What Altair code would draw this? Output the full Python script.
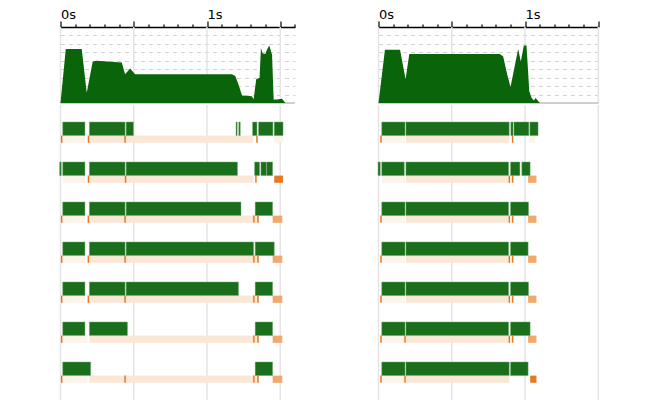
import altair as alt
import pandas as pd

# ---------------- timeline (seconds) ----------------
LEFT_TMAX = 1.6
RIGHT_TMAX = 1.5
GRID_T = [0.0, 0.5, 1.0, 1.5]
AXIS_T = [round(i * 0.1, 1) for i in range(17)]

# ---------------- CPU usage (cores busy) ----------------
LEFT_CPU_T = [0.0, 0.036, 0.145, 0.179, 0.220, 0.247, 0.418, 0.441, 0.475, 0.509,
              1.170, 1.193, 1.215, 1.239, 1.307, 1.318, 1.336, 1.359, 1.368, 1.379,
              1.398, 1.409, 1.425, 1.444, 1.455, 1.478, 1.512, 1.535]
LEFT_CPU_V = [0, 6.4, 6.4, 1.2, 4.9, 5.0, 4.8, 3.4, 4.1, 3.4,
              3.4, 3.2, 2.2, 0.9, 0.8, 0.4, 2.8, 3.0, 6.5, 5.9,
              5.8, 6.3, 6.8, 5.7, 0.4, 0.4, 0.5, 0]
RIGHT_CPU_T = [0.0, 0.044, 0.147, 0.185, 0.210, 0.828, 0.851, 0.878, 0.901, 0.953,
               0.971, 0.992, 1.010, 1.029, 1.045, 1.061, 1.072, 1.101]
RIGHT_CPU_V = [0, 6.3, 6.3, 2.8, 5.8, 5.8, 5.5, 3.4, 1.9, 6.4,
               4.9, 6.8, 6.8, 1.4, 0.6, 0.3, 0.6, 0]

# ---------------- thread activity: running segments ----------------
LEFT_RUNS = [
    [(0.015, 0.167), (0.197, 0.441), (0.448, 0.498), (1.198, 1.206), (1.217, 1.227),
     (1.311, 1.341), (1.352, 1.450), (1.459, 1.519)],
    [(-0.006, 0.005), (0.015, 0.167), (0.197, 0.441), (0.448, 1.208), (1.325, 1.359),
     (1.368, 1.405), (1.407, 1.448)],
    [(0.015, 0.167), (0.197, 0.441), (0.448, 1.232), (1.329, 1.448)],
    [(0.015, 0.167), (0.197, 0.441), (0.448, 1.318), (1.329, 1.459)],
    [(0.015, 0.167), (0.197, 0.441), (0.448, 1.215), (1.329, 1.448)],
    [(0.015, 0.167), (0.197, 0.457), (1.329, 1.448)],
    [(0.015, 0.206), (1.329, 1.448)],
]
RIGHT_RUNS = [
    [(0.022, 0.181), (0.187, 0.892), (0.903, 0.918), (0.924, 1.026), (1.033, 1.089)],
    [(-0.003, 0.012), (0.022, 0.176), (0.187, 0.888), (0.901, 0.965), (0.978, 1.035)],
    [(0.022, 0.181), (0.187, 0.888), (0.901, 1.024)],
    [(0.022, 0.181), (0.187, 0.888), (0.901, 1.021)],
    [(0.022, 0.181), (0.187, 0.888), (0.901, 1.024)],
    [(0.022, 0.181), (0.187, 0.888), (0.901, 1.035)],
    [(0.022, 0.181), (0.187, 0.892), (0.901, 1.021)],
]

# ---------------- waiting strips (start, end, kind) ----------------
LEFT_WAITS = [
    [(0.008, 0.167, "faint"), (0.191, 1.316, "wait"), (1.459, 1.519, "faint")],
    [(0.015, 0.167, "faint"), (0.191, 1.316, "wait")],
    [(0.008, 0.167, "faint"), (0.191, 1.316, "wait"), (1.320, 1.348, "wait")],
    [(0.008, 0.167, "faint"), (0.191, 1.316, "wait"), (1.320, 1.348, "wait")],
    [(0.008, 0.167, "faint"), (0.191, 1.316, "wait"), (1.320, 1.348, "wait")],
    [(0.008, 0.184, "faint"), (0.197, 1.316, "wait"), (1.320, 1.348, "wait")],
    [(0.008, 0.184, "faint"), (0.197, 1.316, "wait"), (1.320, 1.348, "wait")],
]
RIGHT_WAITS = [
    [(0.017, 0.181, "faint"), (0.187, 0.893, "wait"), (1.033, 1.070, "faint")],
    [(0.022, 0.181, "faint"), (0.187, 0.893, "wait")],
    [(0.017, 0.181, "faint"), (0.187, 0.893, "wait")],
    [(0.017, 0.181, "faint"), (0.187, 0.893, "wait")],
    [(0.017, 0.181, "faint"), (0.187, 0.893, "wait")],
    [(0.017, 0.181, "faint"), (0.187, 0.893, "wait")],
    [(0.017, 0.181, "faint"), (0.187, 0.893, "wait")],
]

# ---------------- event ticks ----------------
LEFT_TICKS = [
    [0.008, 0.191, 0.441, 1.341],
    [0.191, 0.444, 1.334],
    [0.008, 0.190, 0.441, 1.320, 1.348],
    [0.008, 0.190, 0.441, 1.320, 1.348],
    [0.008, 0.190, 0.441, 1.320, 1.348],
    [0.008, 1.320, 1.348],
    [0.008, 0.441, 1.320, 1.348],
]
RIGHT_TICKS = [
    [0.017, 0.915],
    [0.893, 0.915],
    [0.017, 0.893, 0.915],
    [0.017, 0.893, 0.915],
    [0.017, 0.893, 0.915],
    [0.017, 0.181, 0.893, 0.915],
    [0.017, 0.181],
]

# ---------------- end blocks (start, end, kind) ----------------
LEFT_BLOCKS = [
    [],
    [(1.459, 1.519, "dark")],
    [(1.448, 1.514, "light")],
    [(1.448, 1.514, "light")],
    [(1.448, 1.514, "light")],
    [(1.448, 1.514, "light")],
    [(1.448, 1.514, "light")],
]
RIGHT_BLOCKS = [
    [],
    [(1.021, 1.078, "light")],
    [(1.021, 1.078, "light")],
    [(1.021, 1.078, "light")],
    [(1.021, 1.078, "light")],
    [(1.021, 1.078, "light")],
    [(1.035, 1.078, "dark")],
]

PX_PER_S = 146.5
AREA_H = 76
ROWS_H = 295
ROW_SPAN = ROWS_H / 40.0

KIND_DOMAIN = ["faint", "wait", "light", "dark"]
KIND_RANGE = ["#fdf3ea", "#fbe7d6", "#f0a96c", "#e57a24"]


def panel(cpu_t, cpu_v, runs, waits, ticks, blocks, tmax):
    width = round(tmax * PX_PER_S, 1)
    xs = alt.Scale(domain=[0, tmax], nice=False, zero=False)
    axis_vals = [v for v in AXIS_T if v <= tmax + 1e-9]
    top_axis = alt.Axis(
        orient="top", values=axis_vals, grid=False, title=None,
        labelExpr="datum.value == 0 ? '0s' : (datum.value == 1 ? '1s' : '')",
        labelAlign="left", labelBaseline="alphabetic", labelFlush=False,
        labelOverlap=False,
        labelFont="DejaVu Sans", labelFontSize=13, labelColor="#000",
        labelPadding=3,
        tickColor="#000", tickWidth=1.2,
        tickSize={"condition": {"test": "abs(datum.value*2 - round(datum.value*2)) < 0.001",
                                "value": 6}, "value": 3},
        domainColor="#000", domainWidth=1.5,
    )

    grid_df = pd.DataFrame({"t": [g for g in GRID_T if g <= tmax + 1e-9]})
    cpu_df = pd.DataFrame({"t": cpu_t, "v": cpu_v})
    base_df = pd.DataFrame({"t": [0.0], "t1": [tmax], "v": [0.0]})

    ys_area = alt.Scale(domain=[0, 9], nice=False, zero=True)
    y_axis = alt.Axis(values=list(range(1, 9)), labels=False, ticks=False, domain=False,
                      title=None, gridDash=[4, 4], gridColor="#d2d2d2", gridWidth=1)

    vgrid_top = alt.Chart(grid_df).mark_rule(color="#e4e4e4", strokeWidth=1.5).encode(
        x=alt.X("t:Q", scale=xs, axis=top_axis))
    baseline = alt.Chart(base_df).mark_rule(color="#a0a0a0", strokeWidth=1.2).encode(
        x=alt.X("t:Q", scale=xs, axis=top_axis), x2="t1:Q",
        y=alt.Y("v:Q", scale=ys_area, axis=y_axis))
    area = alt.Chart(cpu_df).mark_area(color="#0a640a", interpolate="linear").encode(
        x=alt.X("t:Q", scale=xs, axis=top_axis),
        y=alt.Y("v:Q", scale=ys_area, axis=y_axis))
    top = alt.layer(vgrid_top, baseline, area).properties(width=width, height=AREA_H)

    runs_df = pd.DataFrame([{"row": r, "s": s, "e": e}
                            for r, segs in enumerate(runs) for s, e in segs])
    waits_df = pd.DataFrame([{"row": r, "s": s, "e": e, "kind": k}
                             for r, segs in enumerate(waits) for s, e, k in segs])
    blocks_df = pd.DataFrame([{"row": r, "s": s, "e": e, "kind": k}
                              for r, segs in enumerate(blocks) for s, e, k in segs])
    ticks_df = pd.DataFrame([{"row": r, "t": t}
                             for r, ts in enumerate(ticks) for t in ts])

    ys_rows = alt.Scale(domain=[0, ROW_SPAN], nice=False, zero=False, reverse=True)
    kind_color = alt.Color("kind:N", scale=alt.Scale(domain=KIND_DOMAIN, range=KIND_RANGE),
                           legend=None)

    vgrid_rows = alt.Chart(grid_df).mark_rule(color="#e4e4e4", strokeWidth=1.5).encode(
        x=alt.X("t:Q", scale=xs, axis=None))
    wait_marks = alt.Chart(waits_df).transform_calculate(
        y0="datum.row + 0.765", y1="datum.row + 0.945").mark_rect().encode(
        x=alt.X("s:Q", scale=xs, axis=None), x2="e:Q",
        y=alt.Y("y0:Q", scale=ys_rows, axis=None), y2="y1:Q", color=kind_color)
    block_marks = alt.Chart(blocks_df).transform_calculate(
        y0="datum.row + 0.765", y1="datum.row + 0.945").mark_rect().encode(
        x=alt.X("s:Q", scale=xs, axis=None), x2="e:Q",
        y=alt.Y("y0:Q", scale=ys_rows, axis=None), y2="y1:Q", color=kind_color)
    tick_marks = alt.Chart(ticks_df).transform_calculate(
        s="datum.t - 0.005", e="datum.t + 0.005",
        y0="datum.row + 0.765", y1="datum.row + 0.945").mark_rect(color="#e8761e").encode(
        x=alt.X("s:Q", scale=xs, axis=None), x2="e:Q",
        y=alt.Y("y0:Q", scale=ys_rows, axis=None), y2="y1:Q")
    run_marks = alt.Chart(runs_df).transform_calculate(
        y0="datum.row + 0.425", y1="datum.row + 0.765").mark_rect(
        color="#1b6e1b", stroke="#79ad79", strokeWidth=0.6, strokeOpacity=0.8).encode(
        x=alt.X("s:Q", scale=xs, axis=None), x2="e:Q",
        y=alt.Y("y0:Q", scale=ys_rows, axis=None), y2="y1:Q")
    rows = alt.layer(vgrid_rows, wait_marks, block_marks, tick_marks, run_marks).properties(
        width=width, height=ROWS_H)

    return alt.vconcat(top, rows, spacing=0)


left = panel(LEFT_CPU_T, LEFT_CPU_V, LEFT_RUNS, LEFT_WAITS, LEFT_TICKS, LEFT_BLOCKS, LEFT_TMAX)
right = panel(RIGHT_CPU_T, RIGHT_CPU_V, RIGHT_RUNS, RIGHT_WAITS, RIGHT_TICKS, RIGHT_BLOCKS,
              RIGHT_TMAX)

chart = alt.hconcat(left, right, spacing=82).properties(
    padding={"left": 50.5, "top": 0, "right": 5, "bottom": 0}
).configure_view(stroke=None)

chart.save("out.html", embed_options={"renderer": "svg", "actions": False})
